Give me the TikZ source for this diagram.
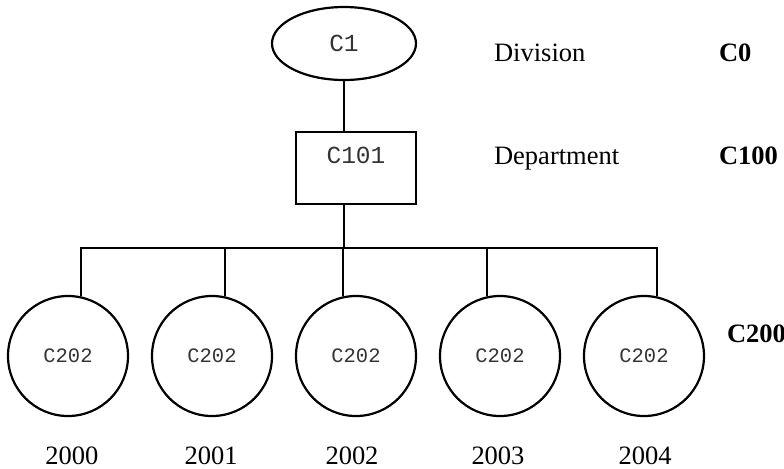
\documentclass[tikz,border=0pt]{standalone}
\usepackage{fontspec}
\setmainfont{Liberation Serif}
\setmonofont{Liberation Mono}
\usetikzlibrary{shapes.geometric}

\begin{document}
\begin{tikzpicture}[
  x=0.5pt, y=-0.5pt,
  line width=1.1pt,
  unit/.style={draw, font=\fontsize{12.25}{14}\selectfont\ttfamily, text=black!80, inner sep=0pt},
  year/.style={draw, circle, minimum size=60pt, inner sep=0pt, font=\fontsize{10.25}{12}\selectfont\ttfamily, text=black!80},
  lbl/.style={anchor=base west, inner sep=0pt, font=\fontsize{13.25}{15}\selectfont},
  code/.style={anchor=base west, inner sep=0pt, font=\fontsize{13.25}{15}\selectfont\bfseries},
  yr/.style={anchor=base, inner sep=0pt, font=\fontsize{13.25}{15}\selectfont}
]
\useasboundingbox (0,0) rectangle (784,468);
\node[unit, ellipse, minimum width=72pt, minimum height=36.5pt] (div) at (344,43.5) {C1};
\node[unit, rectangle, minimum width=60pt, text height=15.5pt, text depth=20.5pt] (dep) at (356,168) {C101};
\foreach \x/\n in {68/0,212/1,356/2,500/3,644/4}
  \node[year] (y\n) at (\x,356) {C202};
\coordinate (bus) at (344,248);
\draw (div.south) -- (div.south |- dep.north);
\draw (div.south |- dep.south) -- (bus);
\draw (y0.78) |- (bus) -| (y4.78);
\draw (y1.78) -- (y1.78 |- bus);
\draw (y2.102) -- (y2.102 |- bus);
\draw (y3.102) -- (y3.102 |- bus);
% level names and codes
\node[lbl] (divt) at (493,61) {Division};
\node[code] (c0) at (718,61) {C0};
\node[lbl] (dept) at (493,164) {Department};
\node[code] (c100) at (718,164) {C100};
\node[code] (c200) at (726,342) {C200};
\foreach \x/\t in {72/2000,211/2001,352/2002,498/2003,645/2004}
  \node[yr] (t\t) at (\x,464) {\t};
\end{tikzpicture}
\end{document}
